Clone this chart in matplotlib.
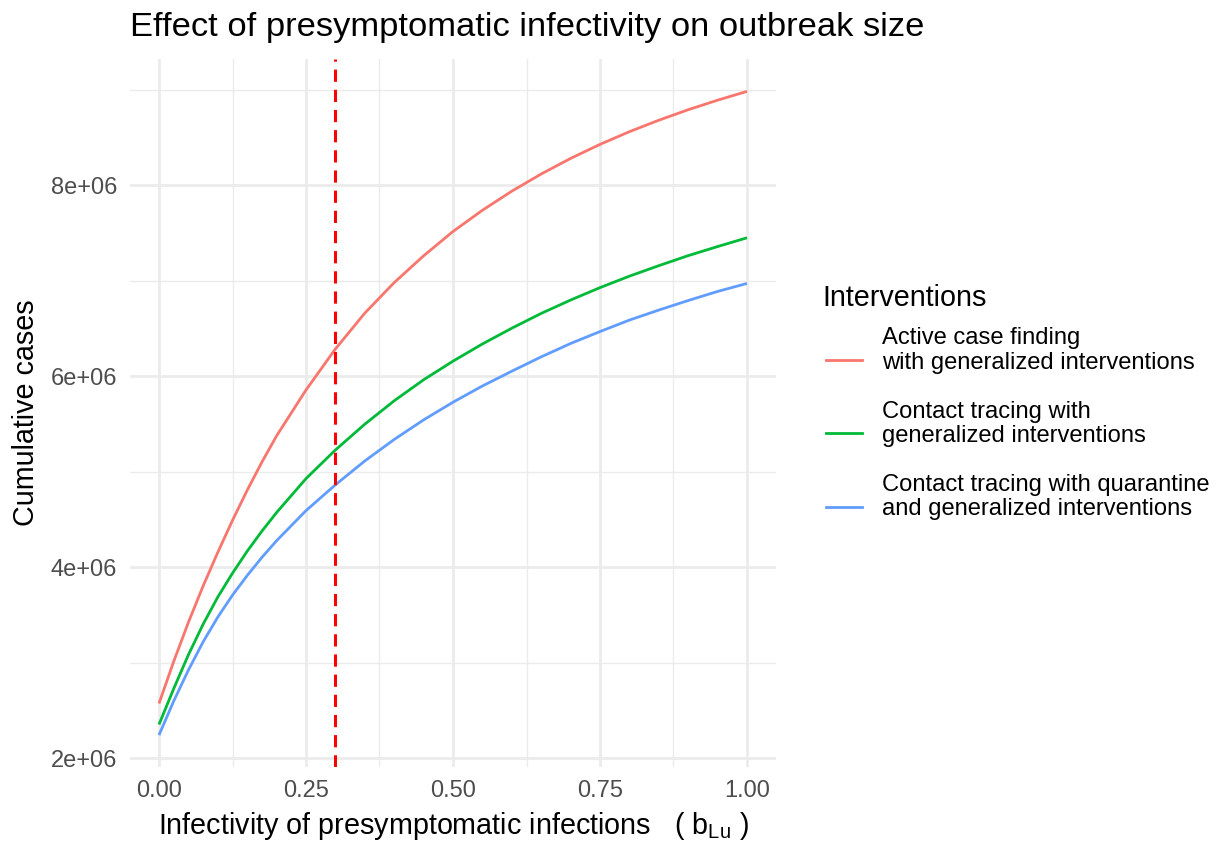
import matplotlib
matplotlib.use("Agg")
import matplotlib.pyplot as plt
from matplotlib.lines import Line2D

# ---- data (in millions of cases) ----
b_lu = [0.0, 0.025, 0.05, 0.075, 0.1, 0.125, 0.15, 0.175, 0.2, 0.25, 0.3,
        0.35, 0.4, 0.45, 0.5, 0.55, 0.6, 0.65, 0.7, 0.75, 0.8, 0.85, 0.9,
        0.95, 1.0]
active_case = [2.575, 3.015, 3.425, 3.805, 4.158, 4.493, 4.808, 5.103, 5.378, 5.858, 6.288,
               6.663, 6.983, 7.263, 7.518, 7.74, 7.94, 8.12, 8.283, 8.43, 8.563, 8.683,
               8.793, 8.893, 8.985]
contact_tracing = [2.355, 2.73, 3.085, 3.405, 3.69, 3.94, 4.17, 4.38, 4.575, 4.93, 5.23,
                   5.50, 5.745, 5.965, 6.16, 6.34, 6.505, 6.66, 6.80, 6.93, 7.05, 7.16,
                   7.265, 7.36, 7.452]
contact_quarantine = [2.244, 2.60, 2.925, 3.22, 3.48, 3.71, 3.915, 4.105, 4.28, 4.595, 4.865,
                      5.115, 5.34, 5.545, 5.73, 5.90, 6.055, 6.205, 6.345, 6.47, 6.59, 6.695,
                      6.795, 6.89, 6.974]
series_values = [active_case, contact_tracing, contact_quarantine]
series_labels = [["Active case finding", "with generalized interventions"],
                 ["Contact tracing with", "generalized interventions"],
                 ["Contact tracing with quarantine", "and generalized interventions"]]
series_colors = ["#F8766D", "#00BA38", "#619CFF"]
scale = 1e6

x_ticks = [0.0, 0.25, 0.5, 0.75, 1.0]
x_tick_labels = ["0.00", "0.25", "0.50", "0.75", "1.00"]
y_ticks = [2e6, 4e6, 6e6, 8e6]
y_tick_labels = ["2e+06", "4e+06", "6e+06", "8e+06"]
vline_x = 0.3

# ---- figure ----
plt.rcParams['font.family'] = ['Liberation Sans', 'DejaVu Sans']
plt.rcParams['mathtext.fontset'] = 'custom'
plt.rcParams['mathtext.rm'] = 'Liberation Sans'
plt.rcParams['mathtext.it'] = 'Liberation Sans'

W, H = 1221, 843
fig = plt.figure(figsize=(W / 100, H / 100), dpi=100)
left, right, top, bottom = 129.6, 776.4, 59.2, 767.3
ax = fig.add_axes([left / W, 1 - bottom / H, (right - left) / W, (bottom - top) / H])

for vals, col in zip(series_values, series_colors):
    ax.plot(b_lu, [v * scale for v in vals], color=col, lw=2.0,
            solid_capstyle='butt', solid_joinstyle='round', zorder=3)

ax.axvline(vline_x, color="#FF0000", lw=2.2, linestyle=(0, (4.0, 2.6)), zorder=4)

# limits with ggplot-style 5% expansion
all_y = [v * scale for vals in series_values for v in vals]
ymin, ymax = min(all_y), max(all_y)
yr = ymax - ymin
ax.set_ylim(ymin - 0.05 * yr, ymax + 0.05 * yr)
xr = max(b_lu) - min(b_lu)
ax.set_xlim(min(b_lu) - 0.05 * xr, max(b_lu) + 0.05 * xr)

ax.set_xticks(x_ticks)
ax.set_xticklabels(x_tick_labels)
ax.set_xticks([0.125, 0.375, 0.625, 0.875], minor=True)
ax.set_yticks(y_ticks)
ax.set_yticklabels(y_tick_labels)
ax.set_yticks([3e6, 5e6, 7e6, 9e6], minor=True)

ax.grid(which='major', color='#EBEBEB', lw=2.0, zorder=0)
ax.grid(which='minor', color='#EBEBEB', lw=1.0, zorder=0)
ax.set_axisbelow(True)
for s in ax.spines.values():
    s.set_visible(False)
ax.tick_params(which='both', length=0)
ax.tick_params(axis='x', pad=9.0, labelsize=17, labelcolor='#4D4D4D')
ax.tick_params(axis='y', pad=9.0, labelsize=17, labelcolor='#4D4D4D')

# titles
fig.text(130 / W, 1 - 36 / H, "Effect of presymptomatic infectivity on outbreak size",
         fontsize=24.8, ha='left', va='baseline', color='black')
fig.text(453 / W, 1 - 834 / H,
         r"Infectivity of presymptomatic infections   ( b$_{\mathregular{Lu}}$ )",
         fontsize=20.7, ha='center', va='baseline', color='black')
fig.text(26 / W, 1 - 413 / H, "Cumulative cases", rotation=90,
         fontsize=20.7, ha='center', va='center', color='black')

# legend
fig.text(822 / W, 1 - 305.7 / H, "Interventions", fontsize=20.7,
         ha='left', va='baseline', color='black')
key_y = [360.0, 433.3, 506.7]
base1 = [344.0, 417.7, 490.7]
base2 = [369.0, 442.3, 515.0]
for lab, col, ky, b1, b2 in zip(series_labels, series_colors, key_y, base1, base2):
    fig.add_artist(Line2D([826 / W, 862 / W], [1 - ky / H, 1 - ky / H],
                          color=col, lw=2.0, transform=fig.transFigure))
    fig.text(882 / W, 1 - b1 / H, lab[0], fontsize=17.1, ha='left', va='baseline')
    fig.text(882 / W, 1 - b2 / H, lab[1], fontsize=17.1, ha='left', va='baseline')

fig.savefig("out.png", dpi=100, facecolor='white')
